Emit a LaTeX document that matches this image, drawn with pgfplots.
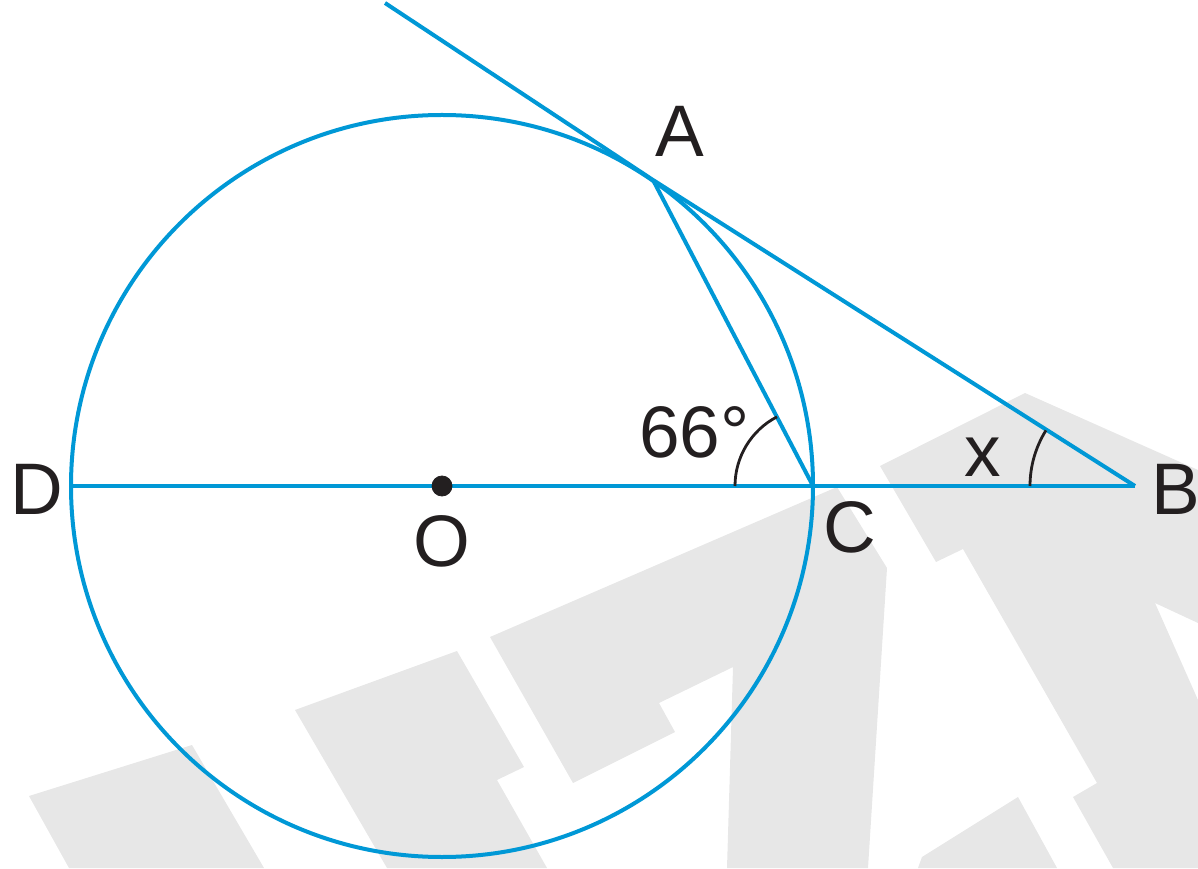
\documentclass[border=0pt]{standalone}
\usepackage{fontspec}
\setmainfont{Liberation Sans}
\usepackage{pgfplots}
\pgfplotsset{compat=1.18}
\definecolor{lineblue}{RGB}{0,152,214}
\definecolor{wmgray}{RGB}{231,231,231}
\definecolor{ink}{RGB}{35,31,32}

\begin{document}
\begin{tikzpicture}[lbl/.style={font=\fontsize{36.5}{40}\selectfont, text=ink}]
\begin{axis}[
    x=0.5pt, y=0.5pt,
    xmin=0, xmax=1198,
    ymin=0, ymax=868,
    hide axis,
    clip=false,
]
% watermark shapes
\addplot[fill=wmgray, draw=none] coordinates {(29,72)(192,123)(264,0)(69,0)} -- cycle;
\addplot[fill=wmgray, draw=none] coordinates {(295,158)(457,217)(524,101)(497,88)(547,0)(387,0)} -- cycle;
\addplot[fill=wmgray, draw=none] coordinates {(490,231)(837,381)(887,300)(868,0)(727,0)(733,201)(659,165)(675,136)(573,85)} -- cycle;
\addplot[fill=wmgray, draw=none] coordinates {(880,402)(1025,475)(1198,398)(1198,245)(1155,265)(1198,168)(1198,0)(1113,0)(1073,71)(1097,85)(963,319)(936,306)} -- cycle;
\addplot[fill=wmgray, draw=none] coordinates {(918,0)(922,11)(1018,71)(1057,0)} -- cycle;

% circle
\draw[lineblue, line width=2pt] (axis cs:442,382) circle[radius=185.5pt];
% diameter and secant to B
\addplot[lineblue, line width=2.2pt] coordinates {(71,382)(1135,382)};
% tangent line through A
\addplot[lineblue, line width=2pt] coordinates {(385,865)(653,688)(1135,382)};
% chord AC
\addplot[lineblue, line width=2pt] coordinates {(653,688)(813,382)};
% centre
\addplot[only marks, mark=*, mark size=5pt, color=ink] coordinates {(442,382)};

% angle arcs
\draw[ink, line width=1.4pt] (axis cs:735,382) arc[start angle=180, end angle=117.5, radius=39pt];
\draw[ink, line width=1.4pt] (axis cs:1030,382) arc[start angle=180, end angle=148, radius=52.5pt];

% labels
\node[lbl, anchor=base] at (axis cs:680,711) {A};
\node[lbl, anchor=base] at (axis cs:1176,353) {B};
\node[lbl, anchor=base] at (axis cs:850,315) {C};
\node[lbl, anchor=base] at (axis cs:37,353) {D};
\node[lbl, anchor=base] at (axis cs:442,302) {O};
\node[lbl, anchor=base west, inner sep=0pt] at (axis cs:639,410) {66°};
\node[lbl, anchor=base, inner sep=0pt] at (axis cs:983,391) {x};
\end{axis}
\pgfresetboundingbox
\path (0,0) rectangle (599pt,434pt);
\end{tikzpicture}
\end{document}
